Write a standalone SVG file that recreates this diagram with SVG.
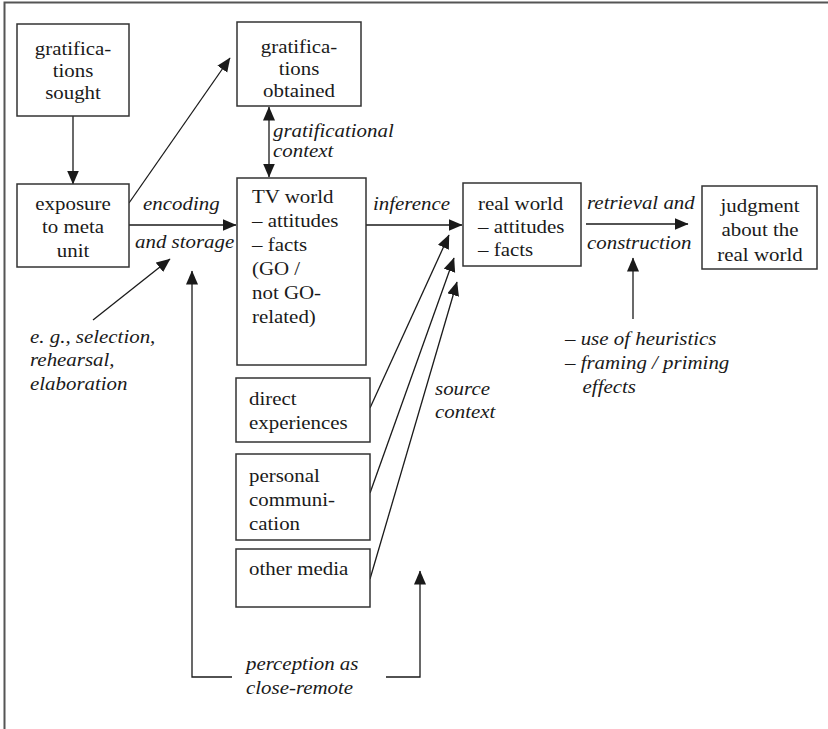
<svg xmlns="http://www.w3.org/2000/svg" width="828" height="729" viewBox="0 0 828 729">
<style>
text{font-family:"Liberation Serif",Tinos,"Times New Roman",Times,"DejaVu Serif","Noto Serif",serif}
.t{font-size:19px;fill:#1a1a1a}
.i{font-style:italic}
.c{text-anchor:middle}
.box{fill:#fff;stroke:#333;stroke-width:1.5}
.ln{fill:none;stroke:#1a1a1a;stroke-width:1.3}
.frame{fill:none;stroke:#555;stroke-width:2}
</style>
<defs>
<marker id="ah" markerUnits="userSpaceOnUse" markerWidth="15" markerHeight="13" refX="13.5" refY="6" orient="auto-start-reverse">
<path d="M0,0 L14,6 L0,12 z" fill="#1a1a1a"/>
</marker>
</defs>
<rect width="828" height="729" fill="#fff"/>
<path class="frame" d="M4.5,729 V2.5 H828"/>

<g id="connectors">
<path class="ln" d="M73,116 L73,184" marker-end="url(#ah)"/>
<path class="ln" d="M129,203 L230,58" marker-end="url(#ah)"/>
<path class="ln" d="M129,225 L236,225" marker-end="url(#ah)"/>
<path class="ln" d="M269,107 L269,177" marker-start="url(#ah)" marker-end="url(#ah)"/>
<path class="ln" d="M366,225 L462,225" marker-end="url(#ah)"/>
<path class="ln" d="M586,224 L688,224" marker-end="url(#ah)"/>
<path class="ln" d="M633,319 L633,258" marker-end="url(#ah)"/>
<path class="ln" d="M93,320 L170,259" marker-end="url(#ah)"/>
<path class="ln" d="M232,677 L192,677 L192,271" marker-end="url(#ah)"/>
<path class="ln" d="M386,677 L420,677 L420,571" marker-end="url(#ah)"/>
<path class="ln" d="M370,408 L449,235" marker-end="url(#ah)"/>
<path class="ln" d="M370,493 L454,258" marker-end="url(#ah)"/>
<path class="ln" d="M370,579 L457,282" marker-end="url(#ah)"/>
</g>

<g id="gratifications-sought">
<rect class="box" x="17" y="24" width="112" height="92"/>
<text class="t c" transform="translate(73,55) scale(1.1,1)"><tspan x="0">gratifica-</tspan><tspan x="0" dy="22">tions</tspan><tspan x="0" dy="22">sought</tspan></text>
</g>
<g id="gratifications-obtained">
<rect class="box" x="237" y="22" width="124" height="84"/>
<text class="t c" transform="translate(299,53) scale(1.1,1)"><tspan x="0">gratifica-</tspan><tspan x="0" dy="22">tions</tspan><tspan x="0" dy="22">obtained</tspan></text>
</g>
<g id="exposure">
<rect class="box" x="17" y="184" width="112" height="83"/>
<text class="t c" transform="translate(73,210) scale(1.1,1)"><tspan x="0">exposure</tspan><tspan x="0" dy="23.5">to meta</tspan><tspan x="0" dy="23.5">unit</tspan></text>
</g>
<g id="tv-world">
<rect class="box" x="237" y="178" width="129" height="187"/>
<text class="t" transform="translate(252,203) scale(1.1,1)"><tspan x="0">TV world</tspan><tspan x="0" dy="24">– attitudes</tspan><tspan x="0" dy="24">– facts</tspan><tspan x="0" dy="24">(GO /</tspan><tspan x="0" dy="24">not GO-</tspan><tspan x="0" dy="24">related)</tspan></text>
</g>
<g id="real-world">
<rect class="box" x="463" y="183" width="118" height="83"/>
<text class="t" transform="translate(478,210) scale(1.1,1)"><tspan x="0">real world</tspan><tspan x="0" dy="23">– attitudes</tspan><tspan x="0" dy="23">– facts</tspan></text>
</g>
<g id="judgment">
<rect class="box" x="702" y="186" width="115" height="83"/>
<text class="t c" transform="translate(760,212) scale(1.1,1)"><tspan x="0">judgment</tspan><tspan x="0" dy="24.5">about the</tspan><tspan x="0" dy="24.5">real world</tspan></text>
</g>
<g id="direct-experiences">
<rect class="box" x="236" y="378" width="134" height="64"/>
<text class="t" transform="translate(249,405) scale(1.1,1)"><tspan x="0">direct</tspan><tspan x="0" dy="24.5">experiences</tspan></text>
</g>
<g id="personal-communication">
<rect class="box" x="236" y="454" width="134" height="86"/>
<text class="t" transform="translate(249,482) scale(1.1,1)"><tspan x="0">personal</tspan><tspan x="0" dy="24">communi-</tspan><tspan x="0" dy="24">cation</tspan></text>
</g>
<g id="other-media">
<rect class="box" x="236" y="549" width="134" height="58"/>
<text class="t" transform="translate(249,575) scale(1.1,1)">other media</text>
</g>

<g id="labels">
<text class="t i" transform="translate(273,137) scale(1.1,1)"><tspan x="0">gratificational</tspan><tspan x="0" dy="20">context</tspan></text>
<text class="t i" transform="translate(143,210) scale(1.1,1)">encoding</text>
<text class="t i" transform="translate(135,248) scale(1.1,1)">and storage</text>
<text class="t i" transform="translate(373,210) scale(1.1,1)">inference</text>
<text class="t i" transform="translate(587,209) scale(1.1,1)">retrieval and</text>
<text class="t i" transform="translate(587,249) scale(1.1,1)">construction</text>
<text class="t i" transform="translate(565,345) scale(1.1,1)"><tspan x="0">– use of heuristics</tspan><tspan x="0" dy="24">– framing / priming</tspan><tspan x="16" dy="24">effects</tspan></text>
<text class="t i" transform="translate(435,395) scale(1.1,1)"><tspan x="0">source</tspan><tspan x="0" dy="23">context</tspan></text>
<text class="t i" transform="translate(30,343) scale(1.1,1)"><tspan x="0">e. g., selection,</tspan><tspan x="0" dy="23.5">rehearsal,</tspan><tspan x="0" dy="23.5">elaboration</tspan></text>
<text class="t i" transform="translate(246,670) scale(1.1,1)"><tspan x="0">perception as</tspan><tspan x="0" dy="24">close-remote</tspan></text>
</g>
</svg>
